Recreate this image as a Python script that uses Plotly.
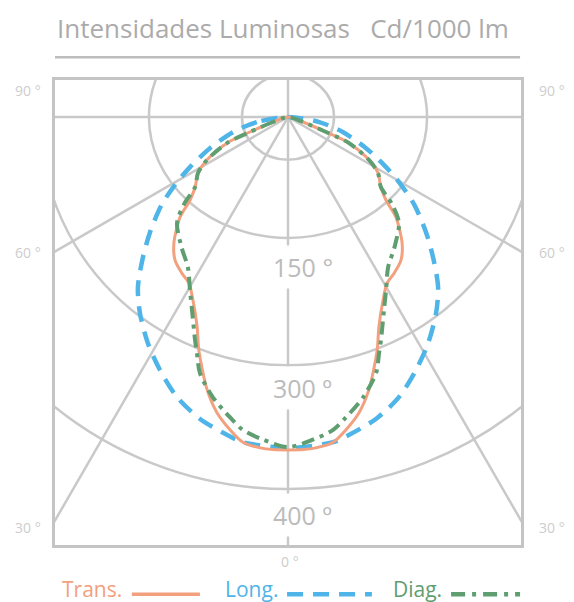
import numpy as np
import plotly.graph_objects as go

# gamma angle from nadir (deg) and luminous intensity (cd/1000 lm)
TRANS_ANGLE = [0, 2.6, 4.8, 7.9, 10.5, 13.5, 16.5, 19.9, 21.2, 23.4, 27.4, 30.8, 34.2,
               38.3, 42.1, 47.2, 49.7, 53.0, 58.1, 62.0, 66.9, 68.5, 71.6, 76]
TRANS_CD = [358, 358, 357, 353, 342, 327, 306, 277, 266, 246, 222, 208, 203,
            196, 183, 158, 138, 125, 114, 99, 71, 44, 17, 0]

LONG_ANGLE = [0, 7.9, 10.9, 16.3, 21.6, 26.8, 31.8, 37.1, 41.4, 45.6, 50.0, 55.1,
              59.0, 63.0, 68.3, 74.7, 80.8, 90]
LONG_CD = [356, 353, 348, 338, 324, 305, 286, 264, 244, 219, 194, 166,
           142, 118, 90, 61, 34, 0]

DIAG_ANGLE = [0, 4.4, 8.2, 10.9, 15.0, 19.0, 21.1, 22.6, 26.4, 29.5, 33.7, 39.2,
              46.3, 50.0, 53.0, 58.1, 62.0, 66.9, 68.5, 71.6, 76]
DIAG_CD = [355, 348, 340, 329, 312, 291, 272, 260, 232, 214, 194, 181,
           165, 146, 125, 114, 99, 71, 44, 17, 0]

# grid
RING_RX = [49.5, 149.5, 267, 400]
RING_RY = [46, 130, 267, 400]
SPOKE_ANGLES = [-60, -30, 30, 60]
RING_LABELS = ["150 °", "300 º", "400 º"]
ANGLE_LABELS = ["90 °", "60 °", "30 °"]

GRID = "#C9C9C9"
ORANGE = "#F2A07E"
BLUE = "#4FB4E8"
GREEN = "#5E9E70"


def mirrored_xy(angles, values):
    a = np.asarray(angles, dtype=float)
    r = np.asarray(values, dtype=float)
    theta = np.deg2rad(np.concatenate([-a[::-1], a[1:]]))
    rr = np.concatenate([r[::-1], r[1:]])
    return rr * np.sin(theta), -rr * np.cos(theta)


fig = go.Figure()

series = [
    ("Long.", LONG_ANGLE, LONG_CD, BLUE, 4.5, "16px,10px"),
    ("Trans.", TRANS_ANGLE, TRANS_CD, ORANGE, 3, "solid"),
    ("Diag.", DIAG_ANGLE, DIAG_CD, GREEN, 4, "13px,6px,4px,6px"),
]
for name, ang, cd, color, width, dash in series:
    x, y = mirrored_xy(ang, cd)
    fig.add_trace(go.Scatter(
        x=x, y=y, mode="lines", name=name,
        line=dict(color=color, width=width, dash=dash, shape="spline", smoothing=0.8),
        showlegend=False, hoverinfo="skip",
    ))

shapes = []
for rx, ry in zip(RING_RX, RING_RY):
    shapes.append(dict(type="circle", xref="x", yref="y", x0=-rx, x1=rx, y0=-ry, y1=ry,
                       line=dict(color=GRID, width=2.5), layer="below"))
for a in SPOKE_ANGLES:
    t = np.deg2rad(a)
    shapes.append(dict(type="line", xref="x", yref="y", x0=0, y0=0,
                       x1=1200 * np.sin(t), y1=-1200 * np.cos(t),
                       line=dict(color=GRID, width=2.5), layer="below"))
shapes.append(dict(type="line", xref="x", yref="y", x0=-1000, x1=1000, y0=0, y1=0,
                   line=dict(color=GRID, width=2.5), layer="below"))
shapes.append(dict(type="line", xref="x", yref="y", x0=0, x1=0, y0=-1000, y1=1000,
                   line=dict(color=GRID, width=2.5), layer="below"))
# rule under the title
shapes.append(dict(type="line", xref="paper", yref="paper", x0=0, x1=0.998, y0=1.049, y1=1.049,
                   line=dict(color="#BDBDBD", width=2.5)))
# legend samples
shapes.append(dict(type="line", xref="paper", yref="paper", x0=0.165, x1=0.311, y0=-0.106, y1=-0.106,
                   line=dict(color=ORANGE, width=3.5)))
shapes.append(dict(type="line", xref="paper", yref="paper", x0=0.498, x1=0.680, y0=-0.106, y1=-0.106,
                   line=dict(color=BLUE, width=4.5, dash="16px,10px")))
shapes.append(dict(type="line", xref="paper", yref="paper", x0=0.850, x1=0.998, y0=-0.106, y1=-0.106,
                   line=dict(color=GREEN, width=4.5, dash="14px,7px,4px,7px")))

ann = []
ann.append(dict(text="Intensidades Luminosas&nbsp;&nbsp;&nbsp;Cd/1000 lm", xref="paper", yref="paper",
                x=0.0, y=1.112, xanchor="left", yanchor="middle", showarrow=False,
                font=dict(family="Open Sans", size=26, color="#ABABAB")))
label_y = [0.978, 0.628, 0.0387]
for lab, yy in zip(ANGLE_LABELS, label_y):
    for xx in (-0.058, 1.066):
        ann.append(dict(text=lab, xref="paper", yref="paper", x=xx, y=yy, showarrow=False,
                        xanchor="center", yanchor="middle",
                        font=dict(family="Open Sans", size=14, color="#CDCDCD")))
ann.append(dict(text="0 °", xref="paper", yref="paper", x=0.504, y=-0.036, showarrow=False,
                xanchor="center", yanchor="middle",
                font=dict(family="Open Sans", size=14, color="#CDCDCD")))
ring_label_y = [-161, -291, -428]
for lab, yy in zip(RING_LABELS, ring_label_y):
    ann.append(dict(text=lab, xref="x", yref="y", x=16, y=yy, showarrow=False,
                    bgcolor="white", borderpad=4,
                    font=dict(family="Open Sans", size=25, color="#BBBBBB")))
legend_items = [("Trans.", 0.079, ORANGE), ("Long.", 0.421, BLUE), ("Diag.", 0.777, GREEN)]
for txt, xx, col in legend_items:
    ann.append(dict(text=txt, xref="paper", yref="paper", x=xx, y=-0.094, showarrow=False,
                    xanchor="center", yanchor="middle",
                    font=dict(family="Open Sans", size=21, color=col)))

# the page body adds an 8px margin, so the figure is sized to the remaining window
fig.update_layout(
    width=566, height=594,
    margin=dict(l=47, r=53, t=72, b=57),
    paper_bgcolor="white", plot_bgcolor="white",
    shapes=shapes, annotations=ann,
    showlegend=False,
    xaxis=dict(range=[-250.5, 250.5], showgrid=False, zeroline=False, showticklabels=False,
               ticks="", showline=True, mirror=True, linecolor="#C4C4C4", linewidth=3),
    yaxis=dict(range=[-460.2, 39.8], showgrid=False, zeroline=False, showticklabels=False,
               ticks="", showline=True, mirror=True, linecolor="#C4C4C4", linewidth=3),
)

fig.write_html("out.html")
